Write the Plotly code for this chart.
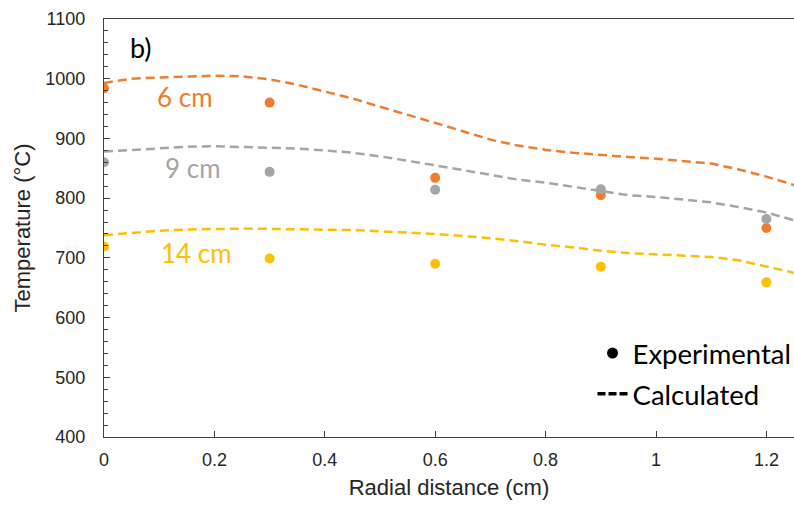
import plotly.graph_objects as go

# Measured temperatures at three axial positions
exp_x = [0, 0.3, 0.6, 0.9, 1.2]
exp_6cm = [984, 960, 834, 805, 750]
exp_9cm = [860, 844, 814, 815, 765]
exp_14cm = [719, 699, 690, 685, 659]

# Model predictions
calc_x = [0, 0.05, 0.1, 0.15, 0.2, 0.25, 0.3, 0.35, 0.4, 0.45, 0.5, 0.55, 0.6,
          0.65, 0.7, 0.75, 0.8, 0.85, 0.9, 0.95, 1.0, 1.05, 1.1, 1.15, 1.2, 1.25]
calc_6cm = [993, 1000, 1002, 1004, 1005, 1004, 999, 990, 979, 967, 953, 940, 926,
            912, 898, 888, 881, 876, 872, 869, 866, 862, 858, 848, 836, 822]
calc_9cm = [878, 881, 884, 886, 887, 886, 885, 883, 880, 876, 870, 863, 855,
            847, 839, 831, 826, 819, 811, 805, 802, 798, 793, 785, 776, 763]
calc_14cm = [738, 742, 745.5, 747.5, 748.5, 749, 748.5, 748, 747.5, 746.5, 744.5,
             742.5, 740, 736.5, 733, 728, 722, 717.5, 712, 708, 706, 704, 701.5,
             696, 686, 675]

series = [
    ("6 cm", exp_6cm, calc_6cm, "#ED7D31", 0.146, 969),
    ("9 cm", exp_9cm, calc_9cm, "#A5A5A5", 0.161, 850),
    ("14 cm", exp_14cm, calc_14cm, "#FFC000", 0.168, 708),
]

LABEL_FONT = "Lato"
AXIS_FONT = "Liberation Sans"
DASH = "9px,5px"

fig = go.Figure()
for name, ev, cv, color, lx, ly in series:
    fig.add_trace(go.Scatter(x=calc_x, y=cv, mode="lines",
                             line=dict(color=color, width=2.5, dash=DASH),
                             showlegend=False, hoverinfo="skip"))
    fig.add_trace(go.Scatter(x=exp_x, y=ev, mode="markers",
                             marker=dict(color=color, size=10),
                             showlegend=False))
    fig.add_annotation(x=lx, y=ly, text=name, showarrow=False,
                       font=dict(family=LABEL_FONT, size=26, color=color))

# Legend entries
fig.add_trace(go.Scatter(x=[None], y=[None], mode="markers", name="Experimental",
                         marker=dict(color="black", size=11), legendgroup="a"))
fig.add_trace(go.Scatter(x=[None], y=[None], mode="lines", name="Calculated",
                         line=dict(color="black", width=3.5, dash="8px,3px"),
                         legendgroup="b"))

fig.add_annotation(x=0.067, y=1053, text="b)", showarrow=False,
                   font=dict(family=LABEL_FONT, size=27, color="black"))

axis_common = dict(showgrid=False, zeroline=False, showline=True,
                   linecolor="#404040", linewidth=1.3,
                   ticks="inside", ticklen=6, tickcolor="#404040",
                   tickfont=dict(family=AXIS_FONT, size=18, color="#262626"))

fig.update_xaxes(range=[0, 1.25], tickvals=[0, 0.2, 0.4, 0.6, 0.8, 1, 1.2],
                 ticktext=["0", "0.2", "0.4", "0.6", "0.8", "1", "1.2"],
                 mirror=True, ticklabelstandoff=6,
                 title=dict(text="Radial distance (cm)", standoff=10,
                            font=dict(family=AXIS_FONT, size=22, color="#262626")),
                 **axis_common)
fig.update_yaxes(range=[400, 1100], dtick=100, ticklabelstandoff=14,
                 minor=dict(dtick=20, ticks="inside", ticklen=4, tickcolor="#404040"),
                 title=dict(text="Temperature (°C)", standoff=8,
                            font=dict(family=AXIS_FONT, size=22, color="#262626")),
                 **axis_common)

fig.update_layout(
    width=794, height=508,
    margin=dict(l=104, r=0, t=19, b=71, autoexpand=False),
    plot_bgcolor="white", paper_bgcolor="white",
    font=dict(family=AXIS_FONT),
    legend=dict(x=0.708, y=0.259, xanchor="left", yanchor="top",
                bgcolor="rgba(0,0,0,0)", tracegroupgap=2,
                font=dict(family=LABEL_FONT, size=27.5, color="black")),
)

fig.write_html("out.html")
